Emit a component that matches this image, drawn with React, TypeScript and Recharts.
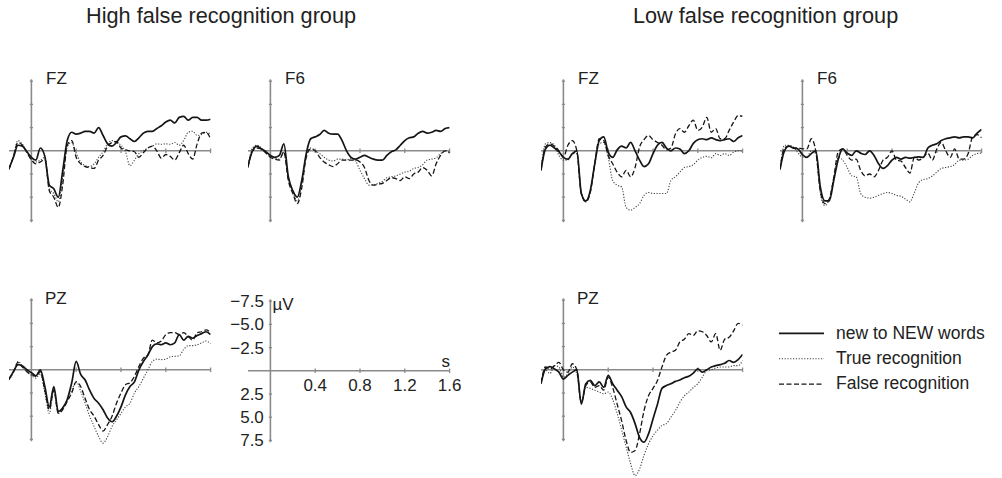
import { Line, LineChart, ReferenceLine, XAxis, YAxis } from 'recharts';

// time in seconds, one sample every 40 ms
const TIMES = [
  -0.2, -0.16, -0.12, -0.08, -0.04, 0, 0.04, 0.08, 0.12, 0.16, 0.2, 0.24, 0.28, 0.32, 0.36, 0.4,
  0.44, 0.48, 0.52, 0.56, 0.6, 0.64, 0.68, 0.72, 0.76, 0.8, 0.84, 0.88, 0.92, 0.96, 1.0, 1.04,
  1.08, 1.12, 1.16, 1.2, 1.24, 1.28, 1.32, 1.36, 1.4, 1.44, 1.48, 1.52, 1.56, 1.6,
];

// amplitudes in µV (negative plotted upwards)
const highFzNew = [1.9, 0.7, -0.6, -0.5, 0.1, 0.7, 1.0, -0.3, 0.6, 3.7, 4.1, 5.0, 2.1, -1.1, -2.0, -1.8, -1.9, -2.1, -2.1, -1.9, -2.5, -1.65, -0.75, -0.5, -0.9, -1.5, -1.6, -1.3, -1.0, -1.4, -1.9, -2.1, -2.1, -2.4, -2.7, -3.1, -3.3, -3.0, -3.6, -3.7, -3.3, -3.6, -3.6, -3.3, -3.3, -3.4];
const highFzTrue = [2.0, 0.5, -1.1, -0.7, 0.1, 0.9, 1.2, 1.0, 0.7, 4.1, 4.6, 5.5, 2.8, -0.4, -0.9, 0.3, 1.2, 1.6, 1.7, 1.4, 0.7, 0.1, -0.75, -1.1, -0.9, -0.6, 0.1, 1.6, 1.0, 0.3, 0, -0.3, -0.5, -0.75, -0.7, -0.75, -0.7, -0.9, -0.6, -1.1, -2.0, -2.1, -1.65, -1.75, -2.0, -1.8];
const highFzFalse = [2.0, 0.6, -0.9, -0.6, 0.2, 1.0, 1.4, 1.2, 0.9, 4.3, 5.0, 6.1, 3.6, -0.6, -1.1, 0.7, 1.4, 1.7, 1.8, 1.9, 1.0, 0.5, -0.5, -0.9, -1.0, -0.3, -0.1, 0, 0.1, 0.7, 0.2, -0.3, -0.5, 0, 0.8, 0.4, 0.6, 1.0, 0.2, -0.6, 0.3, 0.9, -0.75, -1.9, -2.0, -1.3];

const highF6New = [1.6, 0, -0.5, -0.2, 0.1, 0.5, 0.7, 0.5, -0.75, 2.8, 4.3, 5.0, 3.2, 0.3, -1.3, -1.5, -1.75, -2.2, -1.9, -1.8, -1.8, -1.1, 0, 0.7, 0.9, 0.7, 0.5, 0.7, 0.9, 1.0, 1.0, 0.5, 0.1, -0.1, -0.6, -1.1, -1.4, -1.5, -1.9, -2.1, -1.9, -2.0, -2.2, -2.1, -2.4, -2.5];
const highF6True = [1.7, -0.3, -0.6, -0.3, 0.2, 0.6, 0.8, 0.9, 0.2, 3.0, 4.4, 5.4, 3.6, 0.5, -0.3, 0, 0.3, 0.7, 1.0, 1.1, 0.9, 0.9, 1.0, 0.8, 1.1, 2.1, 3.0, 3.7, 3.7, 3.5, 3.3, 2.9, 2.8, 2.7, 2.5, 2.3, 2.2, 1.9, 1.8, 1.5, 1.0, 0.9, 0.75, 0.3, 0, 0.15];
const highF6False = [1.8, 0, -0.3, -0.2, 0.25, 0.7, 0.9, 1.0, 0.1, 3.2, 4.6, 5.7, 4.0, 0.7, -0.2, 0, 0.7, 1.2, 1.5, 1.7, 1.4, 1.0, 1.0, 1.0, 1.0, 1.2, 1.8, 3.2, 3.7, 3.6, 3.5, 3.2, 2.9, 3.0, 3.2, 2.8, 3.0, 2.5, 2.3, 1.8, 2.1, 2.7, 1.4, 0.5, 0, 0.25];

const lowFzNew = [2.1, -0.2, -0.6, -0.3, 0.1, 0.7, 0.9, 0.3, 0, 4.6, 5.4, 4.3, 1.4, -1.1, -1.5, 0.15, 0.7, -0.1, -0.5, -0.3, -0.9, 0, 1.0, 1.7, 1.4, 0.3, -0.6, -0.9, -0.3, 0, -0.3, -0.2, 0.3, 0, -0.8, -1.2, -1.3, -1.2, -1.4, -1.2, -1.1, -1.2, -1.3, -1.0, -1.4, -1.65];
const lowFzTrue = [2.0, -0.75, -0.9, -0.6, 0.5, 1.0, 1.0, 0.3, 0.3, 4.5, 5.5, 4.3, 1.4, -0.75, -0.9, 0.7, 3.2, 3.7, 3.9, 6.1, 6.4, 6.1, 5.7, 4.8, 4.5, 4.6, 4.6, 4.6, 4.6, 3.2, 2.8, 2.3, 1.8, 1.7, 1.5, 1.0, 0.7, 0.6, 0.75, 0.3, 0.5, 0.3, 0.5, 0.15, 0, 0];
const lowFzFalse = [2.1, -0.4, -0.75, -0.5, 0, 0.7, -0.6, -1.1, 0, 4.6, 5.5, 4.5, 1.4, -1.3, -1.1, 0.5, 1.4, 2.3, 2.8, 2.1, 2.8, 1.8, -0.4, -1.2, -1.65, -1.2, -0.9, -0.6, -0.1, -0.3, -1.8, -2.4, -2.0, -2.7, -3.3, -2.2, -2.55, -3.6, -2.0, -2.4, -1.3, -1.3, -2.2, -3.1, -3.8, -3.7];

const lowF6New = [2.0, 0, -0.5, -0.3, -0.2, 0.4, 0.7, 0.3, 0, 3.9, 5.4, 5.4, 3.2, 0.9, -0.2, 0.25, 0.5, 0, 0.25, 0.4, 0, 0.5, 1.4, 1.9, 1.6, 1.0, 0.7, 0.9, 0.7, 0.8, 0.7, 0.65, 0.7, -0.3, -0.6, -0.75, -1.1, -1.3, -1.4, -1.5, -1.4, -1.5, -1.5, -1.4, -1.9, -2.3];
const lowF6True = [2.0, -0.6, -0.6, -0.4, 0.2, 0.7, 0.7, 0, 0.3, 4.6, 5.9, 5.2, 2.9, 0.7, 1.0, 1.8, 2.7, 2.8, 4.6, 5.0, 5.1, 5.0, 4.8, 4.6, 4.5, 4.6, 4.8, 4.9, 5.2, 5.5, 4.5, 3.4, 3.1, 3.0, 2.7, 2.3, 1.9, 1.8, 1.7, 1.5, 1.0, 1.0, 0.9, 0.5, 0.3, 0.25];
const lowF6False = [2.0, -0.3, -0.5, -0.3, -0.3, -0.2, -0.2, -1.3, 0.1, 4.3, 5.7, 5.2, 2.9, 0.1, -0.2, 0.5, 1.0, 0.9, 2.1, 2.7, 2.5, 2.8, 2.1, 1.0, 0.7, 0, 1.0, 1.1, 1.8, 2.4, 0.7, 1.0, 0.7, 0.25, 1.0, -0.2, -0.9, 0, 0.7, -0.2, 0.9, 0.9, 0.3, -1.5, -1.75, -1.4];

const highPzNew = [1.0, 0.2, -0.55, -0.4, 0, 0.3, 0.65, 0, 1.8, 4.0, 1.8, 4.5, 4.1, 3.2, 1.4, -0.9, 0.5, 1.1, 2.2, 3.1, 3.6, 4.3, 5.2, 5.6, 5.0, 4.0, 2.7, 1.8, 1.3, 0, -0.9, -1.6, -2.5, -2.8, -2.7, -2.9, -2.7, -2.9, -3.8, -3.2, -3.6, -3.4, -3.7, -3.9, -4.1, -3.8];
const highPzTrue = [1.1, 0.3, -0.9, -0.4, 0.2, 0.6, 0.9, 0.4, 2.5, 4.7, 2.1, 4.7, 4.2, 3.3, 2.2, 1.3, 2.3, 3.6, 5.0, 6.1, 7.2, 7.9, 7.2, 6.1, 5.4, 4.7, 4.0, 3.6, 2.5, 1.8, 0.9, 0, -0.9, -1.15, -1.1, -1.15, -1.4, -1.45, -1.5, -2.2, -2.6, -2.6, -2.7, -2.9, -3.1, -2.8];
const highPzFalse = [1.0, 0.2, -0.8, -0.3, 0.2, 0.5, 0.7, 0.2, 2.2, 4.3, 2.2, 4.7, 4.3, 3.4, 2.5, 1.3, 1.8, 3.1, 4.3, 5.0, 5.9, 6.6, 5.9, 5.0, 3.6, 2.5, 1.6, 1.4, 0.7, -0.35, -1.25, -1.6, -3.2, -2.9, -3.1, -3.8, -4.0, -4.0, -3.8, -4.0, -3.6, -3.2, -4.0, -4.1, -4.3, -4.0];

const lowPzNew = [1.5, -0.1, -0.35, -0.1, 0.25, 1.0, 0.6, 0.25, 0, 3.7, 1.5, 1.15, 1.7, 1.3, 1.9, 0.6, 1.5, 2.2, 2.9, 4.0, 4.6, 5.8, 7.3, 7.8, 6.9, 5.3, 3.7, 2.0, 1.7, 1.5, 1.25, 1.1, 0.85, 0.7, 0.35, -0.1, 0.25, 0, -0.3, -0.45, -0.55, -0.7, -1.0, -0.8, -1.1, -1.65];
const lowPzTrue = [1.3, 0, 0.4, -0.45, -0.3, 0.8, 0.45, -0.3, 0.45, 3.5, 1.9, 2.0, 2.2, 2.4, 2.6, 2.4, 3.2, 4.7, 6.5, 8.3, 10.1, 11.4, 10.7, 9.2, 8.0, 7.1, 6.5, 6.0, 5.8, 5.1, 4.4, 3.5, 2.8, 2.4, 1.9, 1.5, 0.8, 0.1, 0, -0.2, -0.3, -0.3, -0.3, -0.45, -0.45, -1.0];
const lowPzFalse = [1.4, -0.3, -0.1, -0.45, -0.8, 0, 0.25, -0.65, 0, 3.5, 1.7, 1.3, 1.9, 1.7, 2.2, 0.8, 1.9, 3.7, 5.5, 7.6, 8.9, 8.7, 6.9, 4.4, 2.8, 2.0, 1.15, -0.3, -1.55, -1.9, -2.1, -3.0, -3.3, -3.9, -3.7, -4.2, -4.1, -3.7, -3.0, -3.9, -2.1, -3.3, -3.5, -4.2, -5.0, -4.8];

const Y_TICKS = [-7.5, -5, -2.5, 2.5, 5, 7.5];
const Y_TICK_LABELS = ['\u22127.5', '\u22125.0', '\u22122.5', '2.5', '5.0', '7.5'];
const X_TICKS = [0.4, 0.8, 1.2, 1.6];
const X_TICK_LABELS = ['0.4', '0.8', '1.2', '1.6'];

const LEGEND = [
  { name: 'new to NEW words', dash: undefined as string | undefined, width: 1.7, color: '#151515' },
  { name: 'True recognition', dash: '1.2 1.6', width: 1.1, color: '#444' },
  { name: 'False recognition', dash: '5 2.5', width: 1.3, color: '#151515' },
];

const FONT = '"Liberation Sans", Arial, Helvetica, sans-serif';
const AXIS = '#8a8a8a';
const PX_PER_S = 112;
const PX_PER_UV = 9.28;
const T_MIN = -0.2;
const T_MAX = 1.6;
const V_MIN = -10;
const V_MAX = 12;
const M = { top: 10, right: 12, bottom: 10, left: 40 };

interface PanelProps {
  x0: number;
  y0: number;
  newWords?: number[];
  trueRec?: number[];
  falseRec?: number[];
  scale?: boolean;
}

function ErpPanel({ x0, y0, newWords, trueRec, falseRec, scale }: PanelProps) {
  const data = TIMES.map((t, i) => ({
    t,
    n: newWords ? newWords[i] : null,
    tr: trueRec ? trueRec[i] : null,
    f: falseRec ? falseRec[i] : null,
  }));
  const w = (T_MAX - T_MIN) * PX_PER_S + M.left + M.right;
  const h = (V_MAX - V_MIN) * PX_PER_UV + M.top + M.bottom;
  const left = x0 + T_MIN * PX_PER_S - M.left;
  const top = y0 + V_MIN * PX_PER_UV - M.top;
  const tickFont = { fontSize: 17, fill: '#222', fontFamily: FONT };

  return (
    <div style={{ position: 'absolute', left, top }}>
      <LineChart width={w} height={h} data={data} margin={M}>
        <XAxis type="number" dataKey="t" domain={[T_MIN, T_MAX]} hide allowDataOverflow />
        <YAxis type="number" domain={[V_MIN, V_MAX]} reversed hide allowDataOverflow />
        <ReferenceLine
          segment={[{ x: T_MIN, y: 0 }, { x: T_MAX, y: 0 }]}
          stroke={AXIS}
          strokeWidth={1.6}
          ifOverflow="visible"
        />
        <ReferenceLine
          segment={[{ x: 0, y: -7.7 }, { x: 0, y: 7.7 }]}
          stroke={AXIS}
          strokeWidth={1.6}
          ifOverflow="visible"
        />
        {Y_TICKS.map((v, i) => (
          <ReferenceLine
            key={`y${v}`}
            segment={[{ x: -0.014, y: v }, { x: 0.014, y: v }]}
            stroke={AXIS}
            strokeWidth={1.3}
            ifOverflow="visible"
            label={scale ? { value: Y_TICK_LABELS[i], position: 'left', offset: 5, style: tickFont } : undefined}
          />
        ))}
        {X_TICKS.map((t, i) => (
          <ReferenceLine
            key={`x${t}`}
            segment={[{ x: t, y: -0.25 }, { x: t, y: 0.25 }]}
            stroke={AXIS}
            strokeWidth={1.3}
            ifOverflow="visible"
            label={scale ? { value: X_TICK_LABELS[i], position: 'bottom', offset: 6, style: tickFont } : undefined}
          />
        ))}
        {trueRec && (
          <Line type="monotone" dataKey="tr" stroke="#444" strokeWidth={1.1} strokeDasharray="1.2 1.6"
            dot={false} activeDot={false} isAnimationActive={false} />
        )}
        {falseRec && (
          <Line type="monotone" dataKey="f" stroke="#151515" strokeWidth={1.3} strokeDasharray="5 2.5"
            dot={false} activeDot={false} isAnimationActive={false} />
        )}
        {newWords && (
          <Line type="monotone" dataKey="n" stroke="#151515" strokeWidth={1.7}
            dot={false} activeDot={false} isAnimationActive={false} />
        )}
      </LineChart>
    </div>
  );
}

export default function App() {
  return (
    <div style={{ position: 'absolute', left: 0, top: 0, width: 1002, height: 478, background: '#fff', fontFamily: FONT }}>
      <ErpPanel x0={31.7} y0={150.3} newWords={highFzNew} trueRec={highFzTrue} falseRec={highFzFalse} />
      <ErpPanel x0={270} y0={150.3} newWords={highF6New} trueRec={highF6True} falseRec={highF6False} />
      <ErpPanel x0={563.3} y0={150.3} newWords={lowFzNew} trueRec={lowFzTrue} falseRec={lowFzFalse} />
      <ErpPanel x0={802.3} y0={150.3} newWords={lowF6New} trueRec={lowF6True} falseRec={lowF6False} />
      <ErpPanel x0={31.7} y0={370} newWords={highPzNew} trueRec={highPzTrue} falseRec={highPzFalse} />
      <ErpPanel x0={270} y0={370.7} scale />
      <ErpPanel x0={563.3} y0={369.3} newWords={lowPzNew} trueRec={lowPzTrue} falseRec={lowPzFalse} />

      <svg width={1002} height={478} style={{ position: 'absolute', left: 0, top: 0, pointerEvents: 'none' }}>
        <g fontFamily={FONT} fill="#222">
          <text x={86} y={23} fontSize={21.7}>High false recognition group</text>
          <text x={633} y={23} fontSize={21.7}>Low false recognition group</text>
          <text x={46} y={84} fontSize={17}>FZ</text>
          <text x={285} y={84} fontSize={17}>F6</text>
          <text x={578} y={84} fontSize={17}>FZ</text>
          <text x={817} y={84} fontSize={17}>F6</text>
          <text x={45} y={304} fontSize={17}>PZ</text>
          <text x={577} y={304} fontSize={17}>PZ</text>
          <text x={272.5} y={310} fontSize={17}>µV</text>
          <text x={441.5} y={367} fontSize={17}>s</text>
          {LEGEND.map((item, i) => (
            <g key={item.name}>
              <line x1={779} x2={824} y1={333.3 + i * 25.4} y2={333.3 + i * 25.4}
                stroke={item.color} strokeWidth={item.width} strokeDasharray={item.dash} />
              <text x={836} y={338.5 + i * 25.4} fontSize={17.5}>{item.name}</text>
            </g>
          ))}
        </g>
      </svg>
    </div>
  );
}
